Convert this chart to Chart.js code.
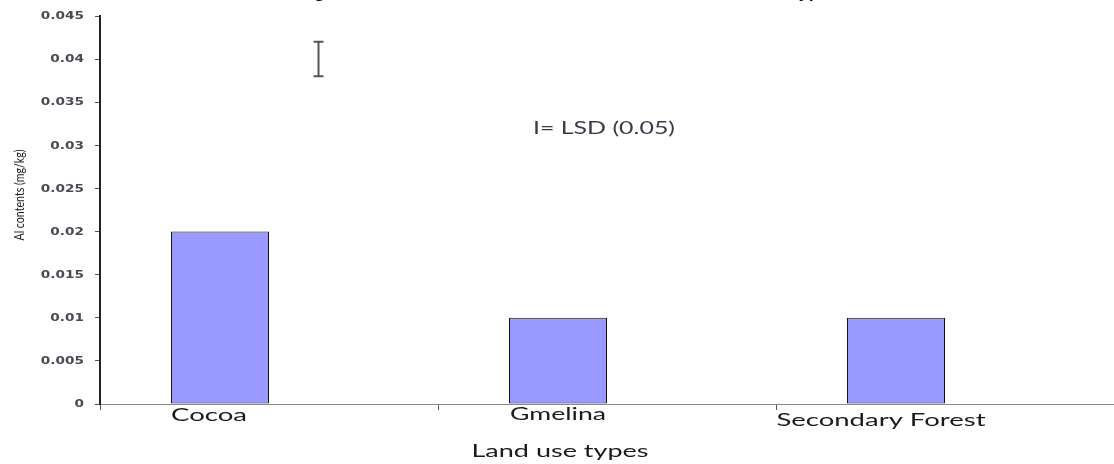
<!DOCTYPE html>
<html>
<head>
<meta charset="utf-8">
<script src="https://cdn.jsdelivr.net/npm/chart.js@4.4.1/dist/chart.umd.min.js"></script>
<style>
  body { margin: 0; background: #fff; }
  #GraficoAluminio { display: block; }
</style>
</head>
<body>
<canvas id="GraficoAluminio" width="1114" height="464"></canvas>
<script>
// dados
var categorias = ["Cocoa", "Gmelina", "Secondary Forest"];
var teorAl = [0.02, 0.01, 0.01];
var serieVazia = [null, null, null];
var eixoYMin = 0;
var eixoYMax = 0.045;
var eixoYPasso = 0.005;
var lsdTopo = 0.042;
var lsdBase = 0.038;
var textoLsd = "I= LSD (0.05)";
var tituloEixoX = "Land use types";
var tituloEixoY = "Al contents (mg/kg)";
var tituloGrafico = "Fig 3: Distribution of Al contents in the different land use types";

// escreve texto esticado na horizontal ate a largura pedida
function TextoAjustado(ctx, texto, x, y, fonte, cor, largura, alinhamento) {
    ctx.save();
    ctx.font = fonte;
    ctx.fillStyle = cor;
    ctx.textAlign = "left";
    var w = ctx.measureText(texto).width;
    var sx = largura ? largura / w : 1;
    ctx.translate(x, y);
    ctx.scale(sx, 1);
    var inicio = 0;
    if (alinhamento === "center") inicio = -w / 2;
    if (alinhamento === "right") inicio = -w;
    ctx.fillText(texto, inicio, 0);
    ctx.restore();
}

var desenhaTextos = {
    id: "desenhaTextos",
    afterDraw: function (chart) {
        var ctx = chart.ctx;
        var area = chart.chartArea;
        var y = chart.scales.y;
        var meta = chart.getDatasetMeta(0);

        // rotulos do eixo y
        ctx.save();
        ctx.textBaseline = "middle";
        y.ticks.forEach(function (t) {
            var rotulo = String(+t.value.toFixed(3));
            ctx.font = "bold 10.5px 'DejaVu Sans'";
            var w = ctx.measureText(rotulo).width;
            TextoAjustado(ctx, rotulo, 84, y.getPixelForValue(t.value) + 0.5,
                "bold 10.5px 'DejaVu Sans'", "#4a4a55", w * 1.3, "right");
        });
        ctx.restore();

        // rotulos das categorias (centrados na barra, com pequeno ajuste)
        var linhasBase = [421, 420, 426];
        var larguras = [76, 96, 209];
        var ajustes = [-11, 0, -15];
        ctx.save();
        ctx.textBaseline = "alphabetic";
        meta.data.forEach(function (barra, i) {
            TextoAjustado(ctx, categorias[i], barra.x + ajustes[i], linhasBase[i],
                "17px Lato", "#1a1a1a", larguras[i], "center");
        });

        // titulo do eixo x
        TextoAjustado(ctx, tituloEixoX, 560, 457, "17px Lato", "#1a1a1a", 177, "center");

        // titulo do eixo y (rotacionado)
        ctx.save();
        ctx.translate(24, 195);
        ctx.rotate(-Math.PI / 2);
        TextoAjustado(ctx, tituloEixoY, 0, 0, "13px Lato", "#1a1a1a", 91, "center");
        ctx.restore();

        // texto do LSD
        TextoAjustado(ctx, textoLsd, (area.left + area.right) / 2 - 3, y.getPixelForValue(0.032) + 6,
            "17px Lato", "#3a3a48", 142, "center");

        // titulo cortado no topo
        TextoAjustado(ctx, tituloGrafico, 569, -2, "bold 17px 'Liberation Sans'", "#111", 542, "center");
        ctx.restore();

        // barra do LSD
        var xl = area.left + 0.2155 * (area.right - area.left);
        var yt = y.getPixelForValue(lsdTopo);
        var yb = y.getPixelForValue(lsdBase);
        ctx.save();
        ctx.strokeStyle = "#555";
        ctx.lineWidth = 2;
        ctx.beginPath();
        ctx.moveTo(xl, yt);
        ctx.lineTo(xl, yb);
        ctx.moveTo(xl - 5, yt);
        ctx.lineTo(xl + 5, yt);
        ctx.moveTo(xl - 5, yb);
        ctx.lineTo(xl + 5, yb);
        ctx.stroke();
        ctx.restore();
    }
};

new Chart(document.getElementById("GraficoAluminio"), {
    type: 'bar',
    data: {
        labels: categorias,
        datasets: [{
            label: "Al contents",
            data: teorAl,
            backgroundColor: "#9999ff",
            borderColor: "#111",
            borderWidth: 1,
            borderSkipped: false,
            barPercentage: 1,
            categoryPercentage: 0.58
        }, {
            label: "",
            data: serieVazia,
            backgroundColor: "#9999ff",
            barPercentage: 1,
            categoryPercentage: 0.58
        }]
    },
    plugins: [desenhaTextos],
    options: {
        responsive: false,
        devicePixelRatio: 1,
        animation: false,
        layout: { padding: { top: 16, right: 0, left: 0, bottom: 0 } },
        plugins: {
            legend: { display: false },
            title: { display: false },
            tooltip: { enabled: false }
        },
        scales: {
            x: {
                grid: { display: true, drawOnChartArea: false, drawTicks: true, tickLength: 6, color: "#555", offset: true },
                border: { display: true, color: "#8a8a8a", width: 1 },
                ticks: { color: "rgba(0,0,0,0)" },
                afterFit: function (s) { s.height = 60; }
            },
            y: {
                min: eixoYMin,
                max: eixoYMax,
                grid: { display: true, drawOnChartArea: false, drawTicks: true, tickLength: 5, color: "#555" },
                border: { display: true, color: "#222", width: 2 },
                ticks: { stepSize: eixoYPasso, color: "rgba(0,0,0,0)" },
                afterFit: function (s) { s.width = 100; }
            }
        }
    }
});
</script>
</body>
</html>
